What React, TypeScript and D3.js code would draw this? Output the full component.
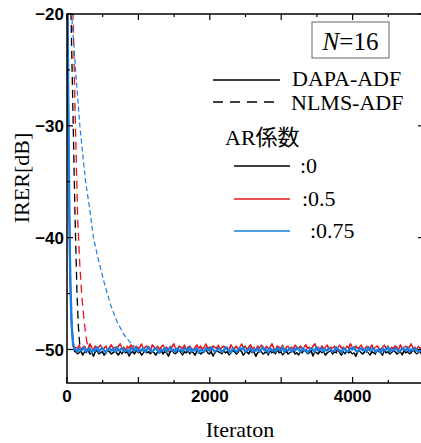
import * as d3 from "d3";

const width = 421;
const height = 443;

// iterations of the transient part (DAPA-ADF, all AR coefficients share them)
const dapaIter = [0, 8, 18, 28, 38, 50, 65, 85, 105];
const dapaBlack = [-12, -20, -28, -35, -41, -45, -48, -49.6, -50.2];
const dapaRed = [-12, -20, -27.5, -34.5, -40.5, -44.5, -47.5, -49.3, -49.9];
const dapaBlue = [-12, -20, -27.8, -34.8, -40.8, -44.8, -47.8, -49.5, -50.0];

const nlmsBlackIter = [30, 56, 84, 112, 140, 160, 178, 196];
const nlmsBlack = [-14, -20, -29, -38, -45, -48, -49.5, -50.2];
const nlmsRedIter = [50, 85, 118, 150, 180, 205, 240, 275, 300];
const nlmsRed = [-14, -20, -30, -38.4, -42.5, -45, -47.5, -49.2, -49.9];
const nlmsBlueIter = [30, 65, 120, 180, 260, 320, 370, 440, 520, 610, 700, 800, 900, 1000];
const nlmsBlue = [-14, -20, -25, -30, -35, -37.5, -40, -42, -44, -46, -47.5, -48.7, -49.5, -50.0];

// steady state, one value every 25 iterations from 120
const steadyStart = 120;
const steadyStep = 25;
const steadyBlack = [
  -50.2,-50.4,-50.3,-50.1,-50.5,-50.2,-50.3,-50.0,-50.4,-50.3,-50.6,-50.2,-50.1,-50.4,-50.3,-50.2,-50.5,-50.3,-50.1,-50.2,
  -50.4,-50.3,-50.0,-50.3,-50.5,-50.2,-50.4,-50.1,-50.3,-50.2,-50.6,-50.3,-50.2,-50.4,-50.1,-50.3,-50.2,-50.5,-50.3,-50.0,
  -50.3,-50.2,-50.4,-50.1,-50.3,-50.5,-50.2,-50.3,-50.1,-50.4,-50.2,-50.3,-50.6,-50.2,-50.1,-50.3,-50.4,-50.2,-50.0,-50.3,
  -50.5,-50.2,-50.3,-50.1,-50.4,-50.2,-50.3,-50.5,-50.1,-50.2,-50.4,-50.3,-50.2,-50.0,-50.3,-50.4,-50.2,-50.6,-50.3,-50.1,
  -50.2,-50.3,-50.4,-50.1,-50.3,-50.2,-50.5,-50.3,-50.1,-50.2,-50.4,-50.3,-50.0,-50.2,-50.5,-50.3,-50.2,-50.4,-50.1,-50.3,
  -50.2,-50.6,-50.3,-50.1,-50.2,-50.4,-50.3,-50.2,-50.5,-50.1,-50.3,-50.2,-50.4,-50.0,-50.3,-50.2,-50.5,-50.3,-50.1,-50.4,
  -50.3,-50.2,-50.1,-50.4,-50.3,-50.5,-50.2,-50.3,-50.0,-50.2,-50.4,-50.3,-50.1,-50.6,-50.2,-50.3,-50.4,-50.1,-50.3,-50.2,
  -50.5,-50.3,-50.2,-50.1,-50.4,-50.2,-50.3,-50.0,-50.3,-50.5,-50.2,-50.4,-50.1,-50.3,-50.2,-50.4,-50.3,-50.6,-50.2,-50.1,
  -50.3,-50.4,-50.2,-50.1,-50.3,-50.5,-50.2,-50.3,-50.4,-50.0,-50.2,-50.3,-50.5,-50.1,-50.3,-50.2,-50.4,-50.3,-50.1,-50.2,
  -50.4,-50.3,-50.2,-50.5,-50.1,-50.3,-50.2,-50.4,-50.3,-50.0,-50.2,-50.4,-50.3,-50.1,-50.5,-50.2,
];
const steadyRed = [
  -49.8,-49.9,-49.6,-50.0,-49.8,-49.7,-50.1,-49.9,-49.5,-49.8,-50.0,-49.7,-49.9,-49.8,-49.6,-50.0,-49.9,-49.7,-50.1,-49.8,
  -49.6,-49.9,-49.8,-50.0,-49.7,-49.5,-49.9,-49.8,-50.1,-49.7,-49.9,-49.6,-49.8,-50.0,-49.7,-49.9,-49.8,-49.5,-50.0,-49.8,
  -49.7,-49.9,-50.1,-49.6,-49.8,-49.9,-49.7,-50.0,-49.8,-49.6,-49.9,-49.8,-50.2,-49.7,-49.8,-49.5,-49.9,-50.0,-49.7,-49.8,
  -49.9,-49.6,-50.0,-49.8,-49.7,-49.9,-50.1,-49.8,-49.6,-49.9,-49.7,-50.0,-49.8,-49.5,-49.9,-49.8,-50.1,-49.7,-49.8,-49.9,
  -49.6,-50.0,-49.8,-49.7,-49.9,-49.8,-50.1,-49.6,-49.8,-49.9,-49.7,-50.0,-49.8,-49.5,-49.9,-49.7,-50.0,-49.8,-49.6,-49.9,
  -49.8,-50.1,-49.7,-49.9,-49.6,-49.8,-50.0,-49.7,-49.9,-49.8,-49.5,-49.9,-50.0,-49.7,-49.8,-49.9,-49.6,-50.1,-49.8,-49.7,
  -49.9,-49.8,-50.0,-49.6,-49.8,-49.9,-49.7,-50.1,-49.8,-49.6,-49.9,-49.8,-50.0,-49.7,-49.5,-49.9,-49.8,-50.0,-49.7,-49.9,
  -49.8,-49.6,-50.0,-49.8,-49.9,-49.7,-50.1,-49.8,-49.6,-49.9,-49.8,-50.0,-49.7,-49.9,-49.5,-49.8,-50.0,-49.7,-49.9,-49.8,
  -49.6,-49.9,-50.1,-49.7,-49.8,-49.9,-49.6,-50.0,-49.8,-49.7,-49.9,-50.0,-49.8,-49.6,-49.9,-49.7,-50.1,-49.8,-49.9,-49.7,
  -49.8,-50.0,-49.6,-49.9,-49.8,-49.7,-50.0,-49.8,-49.5,-49.9,-49.8,-50.1,-49.7,-49.9,-49.8,-49.6,
];
const steadyBlue = [
  -50.0,-50.2,-49.9,-50.1,-50.0,-49.8,-50.2,-50.1,-49.9,-50.3,-50.0,-50.1,-49.8,-50.2,-50.0,-49.9,-50.1,-50.3,-50.0,-49.9,
  -50.1,-50.0,-50.2,-49.8,-50.1,-50.0,-49.9,-50.2,-50.1,-50.0,-50.3,-49.9,-50.0,-50.1,-49.8,-50.2,-50.0,-50.1,-49.9,-50.2,
  -50.0,-49.8,-50.1,-50.2,-50.0,-49.9,-50.1,-50.3,-50.0,-50.1,-49.9,-50.2,-50.0,-49.8,-50.1,-50.0,-50.2,-49.9,-50.1,-50.0,
  -50.2,-49.9,-50.0,-50.1,-49.8,-50.2,-50.0,-50.1,-49.9,-50.3,-50.0,-50.1,-50.2,-49.9,-50.0,-50.1,-49.8,-50.0,-50.2,-50.1,
  -49.9,-50.0,-50.2,-50.1,-49.8,-50.0,-50.1,-50.3,-49.9,-50.0,-50.2,-50.1,-49.9,-50.0,-49.8,-50.2,-50.1,-50.0,-49.9,-50.2,
  -50.0,-50.1,-49.9,-50.2,-50.0,-49.8,-50.1,-50.0,-50.3,-49.9,-50.1,-50.0,-50.2,-49.9,-50.0,-50.1,-49.8,-50.2,-50.0,-50.1,
  -49.9,-50.2,-50.0,-50.1,-49.8,-50.0,-50.2,-49.9,-50.1,-50.0,-50.3,-50.1,-49.9,-50.0,-50.2,-49.8,-50.1,-50.0,-49.9,-50.2,
  -50.0,-50.1,-49.9,-50.0,-50.2,-50.1,-49.8,-50.0,-50.1,-50.3,-49.9,-50.0,-50.2,-50.1,-49.9,-50.0,-49.8,-50.1,-50.2,-50.0,
  -49.9,-50.1,-50.0,-50.2,-49.8,-50.1,-50.0,-49.9,-50.2,-50.1,-50.0,-50.3,-49.9,-50.1,-50.0,-49.8,-50.2,-50.0,-50.1,-49.9,
  -50.0,-50.2,-50.1,-49.9,-50.0,-50.1,-49.8,-50.2,-50.0,-50.1,-49.9,-50.0,-50.2,-50.1,-49.9,-50.0,
];

const xTickLabels = [0, 2000, 4000];
const yTickLabels = [-50, -40, -30, -20];
const arLabels = [":0", ":0.5", ":0.75"];
const colors = ["#000000", "#e8131a", "#1a7fe0"];

const x = d3.scaleLinear().domain([0, 5000]).range([67, 424]);
const y = d3.scaleLinear().domain([-53, -20]).range([383, 14]);

type Pt = [number, number];

function build(iter: number[], vals: number[], steady: number[]): Pt[] {
  const pts: Pt[] = iter.map((t, i) => [t, vals[i]]);
  const last = iter[iter.length - 1];
  steady.forEach((v, i) => {
    const t = steadyStart + i * steadyStep;
    if (t > last) pts.push([t, v]);
  });
  return pts;
}

const line = d3
  .line<Pt>()
  .x((d) => x(d[0]))
  .y((d) => y(d[1]));

const series = [
  { pts: build(nlmsBlackIter, nlmsBlack, steadyBlack), color: colors[0], dash: "8,5", w: 1.3 },
  { pts: build(nlmsRedIter, nlmsRed, steadyRed), color: colors[1], dash: "8,5", w: 1.3 },
  { pts: build(nlmsBlueIter, nlmsBlue, steadyBlue), color: colors[2], dash: "5,3", w: 1.2 },
  { pts: build(dapaIter, dapaBlack, steadyBlack), color: colors[0], dash: "", w: 1.3 },
  { pts: build(dapaIter, dapaRed, steadyRed), color: colors[1], dash: "", w: 1.3 },
  { pts: build(dapaIter, dapaBlue, steadyBlue), color: colors[2], dash: "", w: 2.4 },
];

const serif = "'Liberation Serif', 'Times New Roman', 'Noto Sans CJK JP', serif";
const sans = "'Liberation Sans', Arial, sans-serif";

export default function App() {
  const [x0, x1] = x.range();
  const [y1, y0] = y.range();
  const xMinor = d3.range(0, 5001, 500);
  const yMinor = d3.range(-50, -19, 5);
  const fmt = d3.format("");

  return (
    <svg width={width} height={height} style={{ position: "absolute", left: 0, top: 0, background: "#fff" }}>
      <defs>
        <clipPath id="plot">
          <rect x={x0} y={y0} width={x1 - x0} height={y1 - y0} />
        </clipPath>
      </defs>

      <g clipPath="url(#plot)">
        {series.map((s, i) => (
          <path
            key={i}
            d={line(s.pts) || ""}
            fill="none"
            stroke={s.color}
            strokeWidth={s.w}
            strokeDasharray={s.dash || undefined}
            strokeLinejoin="round"
          />
        ))}
      </g>

      {/* frame */}
      <rect x={x0} y={y0} width={x1 - x0} height={y1 - y0} fill="none" stroke="#000" strokeWidth={1.5} />

      {xMinor.map((t) => {
        const len = t % 1000 === 0 ? 6 : 3;
        return (
          <g key={"xt" + t} stroke="#000" strokeWidth={1.2}>
            <line x1={x(t)} x2={x(t)} y1={y1} y2={y1 - len} />
            <line x1={x(t)} x2={x(t)} y1={y0} y2={y0 + len} />
          </g>
        );
      })}
      {yMinor.map((v) => {
        const len = v % 10 === 0 ? 6 : 3;
        return (
          <g key={"yt" + v} stroke="#000" strokeWidth={1.2}>
            <line x1={x0} x2={x0 + len} y1={y(v)} y2={y(v)} />
            <line x1={x1} x2={x1 - len} y1={y(v)} y2={y(v)} />
          </g>
        );
      })}

      {xTickLabels.map((t) => (
        <text key={"xl" + t} x={x(t)} y={402} textAnchor="middle" style={{ fontFamily: sans }} fontWeight="bold" fontSize={17}>
          {fmt(t)}
        </text>
      ))}
      {yTickLabels.map((v) => (
        <text
          key={"yl" + v}
          x={64}
          y={y(v)}
          dy="0.36em"
          textAnchor="end"
          style={{ fontFamily: sans }}
          fontWeight="bold"
          fontSize={17}
        >
          {fmt(v)}
        </text>
      ))}

      <g style={{ fontFamily: serif }} fontSize={22}>
        <text x={240} y={437} textAnchor="middle">
          Iteraton
        </text>
        <text transform="translate(29,178) rotate(-90)" textAnchor="middle">
          IRER[dB]
        </text>

        {/* legend */}
        <rect x={312} y={22} width={77} height={36} fill="#fff" stroke="#666" strokeWidth={1} />
        <text x={350.5} y={50} textAnchor="middle" fontSize={25}>
          <tspan fontStyle="italic">N</tspan>=16
        </text>

        <line x1={213} x2={280} y1={80} y2={80} stroke="#000" strokeWidth={1.5} />
        <text x={292} y={86}>DAPA-ADF</text>
        <line x1={213} x2={280} y1={102} y2={102} stroke="#000" strokeWidth={1.5} strokeDasharray="10,7" />
        <text x={291} y={110}>NLMS-ADF</text>

        <text x={225} y={145}>AR係数</text>
        {arLabels.map((lab, i) => {
          const ly = [166, 199, 231][i];
          const tx = [300, 302, 310][i];
          return (
            <g key={lab}>
              <line x1={234} x2={290} y1={ly} y2={ly} stroke={colors[i]} strokeWidth={1.5} />
              <text x={tx} y={ly + 7}>
                {lab}
              </text>
            </g>
          );
        })}
      </g>
    </svg>
  );
}
